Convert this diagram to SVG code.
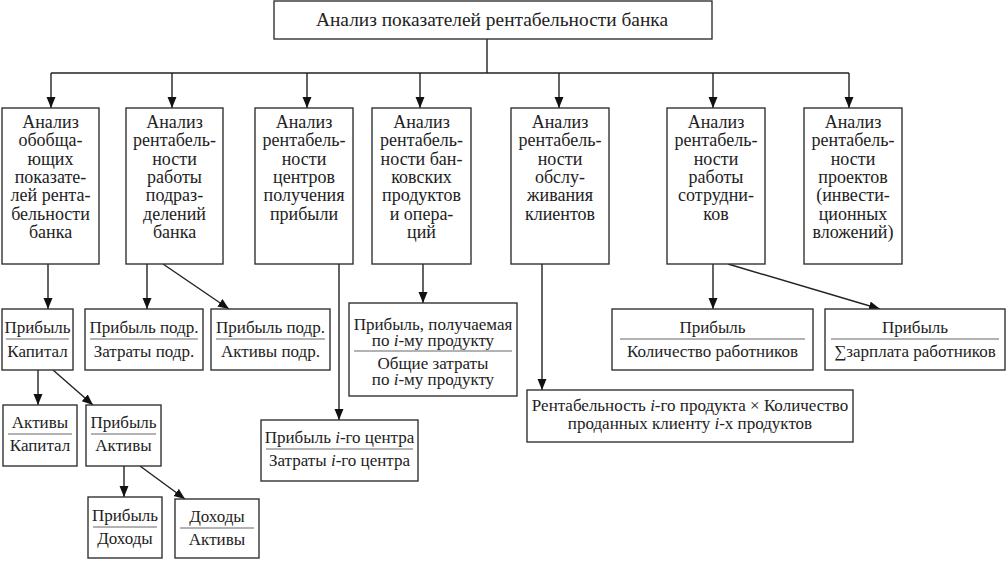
<svg xmlns="http://www.w3.org/2000/svg" width="1007" height="561" viewBox="0 0 1007 561">
<style>
.b{fill:#fff;stroke:#333;stroke-width:1.4}
.t{font-family:"Liberation Serif","DejaVu Serif",serif;font-size:18px;fill:#222;text-anchor:middle}
.f{font-size:17px}
.h{font-size:19.4px}
.d{stroke:#666;stroke-width:1}
.c{fill:none;stroke:#222;stroke-width:1.4}
.i{font-style:italic}
</style>
<defs>
<marker id="a" markerUnits="userSpaceOnUse" markerWidth="12" markerHeight="10" refX="11" refY="4.5" orient="auto">
<path d="M0,0 L11,4.5 L0,9 z" fill="#111"/>
</marker>
</defs>
<rect width="1007" height="561" fill="#fff"/>
<g id="connectors" class="c">
<path d="M487,39 V73 M51,73 H849"/>
<path d="M51,73 V108" marker-end="url(#a)"/>
<path d="M172,73 V108" marker-end="url(#a)"/>
<path d="M307,73 V108" marker-end="url(#a)"/>
<path d="M420,73 V108" marker-end="url(#a)"/>
<path d="M559,73 V108" marker-end="url(#a)"/>
<path d="M713,73 V108" marker-end="url(#a)"/>
<path d="M849,73 V108" marker-end="url(#a)"/>
<path d="M48,264 V309" marker-end="url(#a)"/>
<path d="M147,264 V309" marker-end="url(#a)"/>
<path d="M163,264 L229,309" marker-end="url(#a)"/>
<path d="M339,264 V420" marker-end="url(#a)"/>
<path d="M423,264 V303" marker-end="url(#a)"/>
<path d="M542,264 V390" marker-end="url(#a)"/>
<path d="M713,264 V309" marker-end="url(#a)"/>
<path d="M728,264 L880,309" marker-end="url(#a)"/>
<path d="M38,370 V405" marker-end="url(#a)"/>
<path d="M53,370 L93,405" marker-end="url(#a)"/>
<path d="M124,466 V497" marker-end="url(#a)"/>
<path d="M140,466 L185,499" marker-end="url(#a)"/>
</g>
<g id="root">
<rect class="b" x="274" y="1" width="438" height="38"/>
<text class="t h" x="492" y="26">Анализ показателей рентабельности банка</text>
</g>
<g id="n1">
<rect class="b" x="2" y="108" width="97" height="156"/>
<text class="t"><tspan x="50.5" y="128">Анализ</tspan><tspan x="50.5" y="146.3">обобща-</tspan><tspan x="50.5" y="164.7">ющих</tspan><tspan x="50.5" y="183">показате-</tspan><tspan x="50.5" y="201.3">лей рента-</tspan><tspan x="50.5" y="219.7">бельности</tspan><tspan x="50.5" y="238">банка</tspan></text>
</g>
<g id="n2">
<rect class="b" x="126" y="108" width="97" height="156"/>
<text class="t"><tspan x="174.5" y="128">Анализ</tspan><tspan x="174.5" y="146.3">рентабель-</tspan><tspan x="174.5" y="164.7">ности</tspan><tspan x="174.5" y="183">работы</tspan><tspan x="174.5" y="201.3">подраз-</tspan><tspan x="174.5" y="219.7">делений</tspan><tspan x="174.5" y="238">банка</tspan></text>
</g>
<g id="n3">
<rect class="b" x="255" y="108" width="98" height="156"/>
<text class="t"><tspan x="304" y="128">Анализ</tspan><tspan x="304" y="146.3">рентабель-</tspan><tspan x="304" y="164.7">ности</tspan><tspan x="304" y="183">центров</tspan><tspan x="304" y="201.3">получения</tspan><tspan x="304" y="219.7">прибыли</tspan></text>
</g>
<g id="n4">
<rect class="b" x="372" y="108" width="99" height="156"/>
<text class="t"><tspan x="421.5" y="128">Анализ</tspan><tspan x="421.5" y="146.3">рентабель-</tspan><tspan x="421.5" y="164.7">ности бан-</tspan><tspan x="421.5" y="183">ковских</tspan><tspan x="421.5" y="201.3">продуктов</tspan><tspan x="421.5" y="219.7">и опера-</tspan><tspan x="421.5" y="238">ций</tspan></text>
</g>
<g id="n5">
<rect class="b" x="511" y="108" width="98" height="156"/>
<text class="t"><tspan x="560" y="128">Анализ</tspan><tspan x="560" y="146.3">рентабель-</tspan><tspan x="560" y="164.7">ности</tspan><tspan x="560" y="183">обслу-</tspan><tspan x="560" y="201.3">живания</tspan><tspan x="560" y="219.7">клиентов</tspan></text>
</g>
<g id="n6">
<rect class="b" x="667" y="108" width="98" height="156"/>
<text class="t"><tspan x="716" y="128">Анализ</tspan><tspan x="716" y="146.3">рентабель-</tspan><tspan x="716" y="164.7">ности</tspan><tspan x="716" y="183">работы</tspan><tspan x="716" y="201.3">сотрудни-</tspan><tspan x="716" y="219.7">ков</tspan></text>
</g>
<g id="n7">
<rect class="b" x="804" y="108" width="98" height="156"/>
<text class="t"><tspan x="853" y="128">Анализ</tspan><tspan x="853" y="146.3">рентабель-</tspan><tspan x="853" y="164.7">ности</tspan><tspan x="853" y="183">проектов</tspan><tspan x="853" y="201.3">(инвести-</tspan><tspan x="853" y="219.7">ционных</tspan><tspan x="853" y="238">вложений)</tspan></text>
</g>
<g id="f_pk">
<rect class="b" x="2" y="309" width="71" height="61"/>
<line class="d" x1="6" y1="339" x2="69" y2="339"/>
<text class="t f" x="37.5" y="333">Прибыль</text>
<text class="t f" x="37.5" y="357">Капитал</text>
</g>
<g id="f_pz">
<rect class="b" x="85" y="309" width="118" height="61"/>
<line class="d" x1="90" y1="339" x2="198" y2="339"/>
<text class="t f" x="144" y="333">Прибыль подр.</text>
<text class="t f" x="144" y="357">Затраты подр.</text>
</g>
<g id="f_pa">
<rect class="b" x="211" y="309" width="119" height="61"/>
<line class="d" x1="216" y1="339" x2="325" y2="339"/>
<text class="t f" x="270.5" y="333">Прибыль подр.</text>
<text class="t f" x="270.5" y="357">Активы подр.</text>
</g>
<g id="f_prod">
<rect class="b" x="349" y="303" width="168" height="93"/>
<line class="d" x1="354" y1="351" x2="512" y2="351"/>
<text class="t f" x="433" y="330">Прибыль, получаемая</text>
<text class="t f" x="433" y="346">по <tspan class="i">i</tspan>-му продукту</text>
<text class="t f" x="433" y="369">Общие затраты</text>
<text class="t f" x="433" y="385">по <tspan class="i">i</tspan>-му продукту</text>
</g>
<g id="f_center">
<rect class="b" x="261" y="420" width="157" height="61"/>
<line class="d" x1="266" y1="449" x2="413" y2="449"/>
<text class="t f" x="339.5" y="443">Прибыль <tspan class="i">i</tspan>-го центра</text>
<text class="t f" x="339.5" y="466">Затраты <tspan class="i">i</tspan>-го центра</text>
</g>
<g id="f_client">
<rect class="b" x="527" y="390" width="326" height="52"/>
<text class="t f" x="690" y="411">Рентабельность <tspan class="i">i</tspan>-го продукта × Количество</text>
<text class="t f" x="690" y="429">проданных клиенту <tspan class="i">i</tspan>-х продуктов</text>
</g>
<g id="f_emp">
<rect class="b" x="612" y="309" width="201" height="61"/>
<line class="d" x1="620" y1="339" x2="805" y2="339"/>
<text class="t f" x="712.5" y="333">Прибыль</text>
<text class="t f" x="712.5" y="357">Количество работников</text>
</g>
<g id="f_sal">
<rect class="b" x="825" y="309" width="180" height="61"/>
<line class="d" x1="831" y1="339" x2="999" y2="339"/>
<text class="t f" x="915" y="333">Прибыль</text>
<text class="t f" x="915" y="357">∑зарплата работников</text>
</g>
<g id="f_ak">
<rect class="b" x="3" y="405" width="74" height="61"/>
<line class="d" x1="8" y1="434" x2="72" y2="434"/>
<text class="t f" x="40" y="428">Активы</text>
<text class="t f" x="40" y="451">Капитал</text>
</g>
<g id="f_pa2">
<rect class="b" x="86" y="405" width="75" height="61"/>
<line class="d" x1="91" y1="434" x2="156" y2="434"/>
<text class="t f" x="123.5" y="428">Прибыль</text>
<text class="t f" x="123.5" y="451">Активы</text>
</g>
<g id="f_pd">
<rect class="b" x="88" y="497" width="74" height="61"/>
<line class="d" x1="93" y1="527" x2="157" y2="527"/>
<text class="t f" x="125" y="521">Прибыль</text>
<text class="t f" x="125" y="544">Доходы</text>
</g>
<g id="f_da">
<rect class="b" x="175" y="499" width="84" height="59"/>
<line class="d" x1="180" y1="528" x2="254" y2="528"/>
<text class="t f" x="217" y="522">Доходы</text>
<text class="t f" x="217" y="545">Активы</text>
</g>
</svg>
